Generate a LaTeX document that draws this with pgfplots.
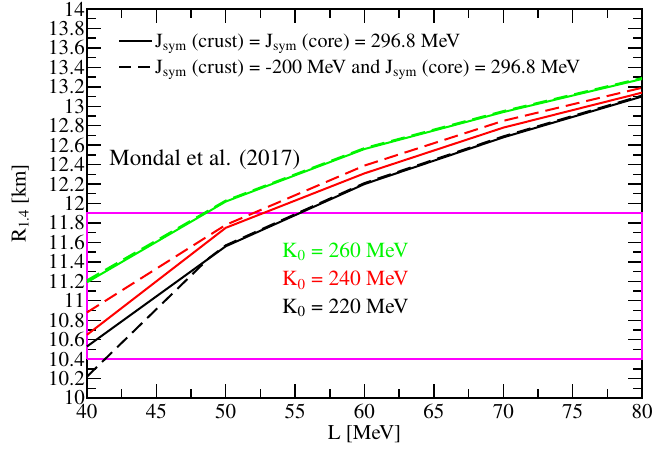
\documentclass[border=0pt]{standalone}
\usepackage{pgfplots}
\pgfplotsset{compat=1.18}
\usepackage{fontspec}
\setmainfont{TeX Gyre Termes}
\definecolor{mygreen}{RGB}{0,245,0}
\definecolor{myred}{RGB}{255,0,0}
\definecolor{mymag}{RGB}{255,0,255}
\begin{document}
\begin{tikzpicture}[font=\rmfamily]
\begin{axis}[
  at={(0pt,0pt)}, anchor=south west,
  scale only axis,
  width=555pt, height=389pt,
  xmin=40, xmax=80, ymin=10, ymax=14,
  xtick={40,45,50,55,60,65,70,75,80},
  minor x tick num=1,
  ytick={10,10.2,10.4,10.6,10.8,11,11.2,11.4,11.6,11.8,12,12.2,12.4,12.6,12.8,13,13.2,13.4,13.6,13.8,14},
  yticklabels={10,10.2,10.4,10.6,10.8,11,11.2,11.4,11.6,11.8,12,12.2,12.4,12.6,12.8,13,13.2,13.4,13.6,13.8,14},
  minor y tick num=1,
  tick align=inside,
  major tick length=14pt,
  minor tick length=9pt,
  every tick/.style={black, line width=1.4pt},
  axis line style={line width=2pt},
  /pgf/number format/assume math mode=true,
  tick label style={font=\rmfamily\fontsize{21}{23}\selectfont},
  xticklabel style={yshift=-3pt},
  yticklabel style={xshift=-1pt, inner sep=1pt},
  clip=false,
  legend cell align=left,
  legend style={at={(axis cs:42.0,13.79)}, anchor=north west, draw=none, fill=none,
    font=\rmfamily\fontsize{20}{22}\selectfont, row sep=7pt},
  legend image code/.code={\draw[#1] (0pt,0pt) -- (33pt,0pt);},
]
\addlegendimage{black, line width=2.2pt}
\addlegendentry{J\textsubscript{sym} (crust) = J\textsubscript{sym} (core) = 296.8 MeV}
\addlegendimage{black, line width=2.2pt, dash pattern=on 12pt off 7pt}
\addlegendentry{J\textsubscript{sym} (crust) = -200 MeV and J\textsubscript{sym} (core) = 296.8 MeV}

\addplot[mymag, line width=2pt, forget plot] coordinates {(40,10.4)(80,10.4)(80,11.9)(40,11.9)(40,10.4)};

\addplot[mygreen, line width=2pt, dash pattern=on 14pt off 7pt, forget plot] coordinates {(40,11.21)(50,12.03)(60,12.57)(70,12.95)(80,13.29)};
\addplot[mygreen, line width=2pt, forget plot] coordinates {(40,11.19)(50,12.02)(60,12.56)(70,12.94)(80,13.28)};

\addplot[myred, line width=2pt, dash pattern=on 14pt off 7pt, forget plot] coordinates {(40,10.88)(50,11.78)(60,12.39)(70,12.85)(80,13.19)};
\addplot[myred, line width=2pt, forget plot] coordinates {(40,10.65)(50,11.75)(60,12.31)(70,12.78)(80,13.14)};

\addplot[black, line width=2pt, dash pattern=on 14pt off 7pt, forget plot] coordinates {(40,10.22)(48.8,11.44)(50,11.57)(60,12.21)(70,12.69)(80,13.11)};
\addplot[black, line width=2pt, forget plot] coordinates {(40,10.53)(50,11.56)(60,12.20)(70,12.68)(80,13.10)};

\node[anchor=west, font=\rmfamily\fontsize{23}{25}\selectfont, inner sep=0pt] at (axis cs:41.6,12.45) {Mondal et al. (2017)};
\node[anchor=west, font=\rmfamily\fontsize{21.5}{23}\selectfont, text=mygreen, inner sep=0pt] at (axis cs:54.05,11.50) {K\textsubscript{0} = 260 MeV};
\node[anchor=west, font=\rmfamily\fontsize{21.5}{23}\selectfont, text=myred, inner sep=0pt] at (axis cs:54.05,11.21) {K\textsubscript{0} = 240 MeV};
\node[anchor=west, font=\rmfamily\fontsize{21.5}{23}\selectfont, text=black, inner sep=0pt] at (axis cs:54.05,10.93) {K\textsubscript{0} = 220 MeV};
\node[font=\rmfamily\fontsize{21}{23}\selectfont] at ([yshift=-36pt]rel axis cs:0.5,0) {L [MeV]};
\node[font=\rmfamily\fontsize{21}{23}\selectfont, rotate=90] at ([xshift=-67pt]rel axis cs:0,0.5) {R\textsubscript{1.4} [km]};
\end{axis}
\pgfresetboundingbox
\path[use as bounding box] (-87pt,-53pt) rectangle (567pt,398pt);
\end{tikzpicture}
\end{document}
